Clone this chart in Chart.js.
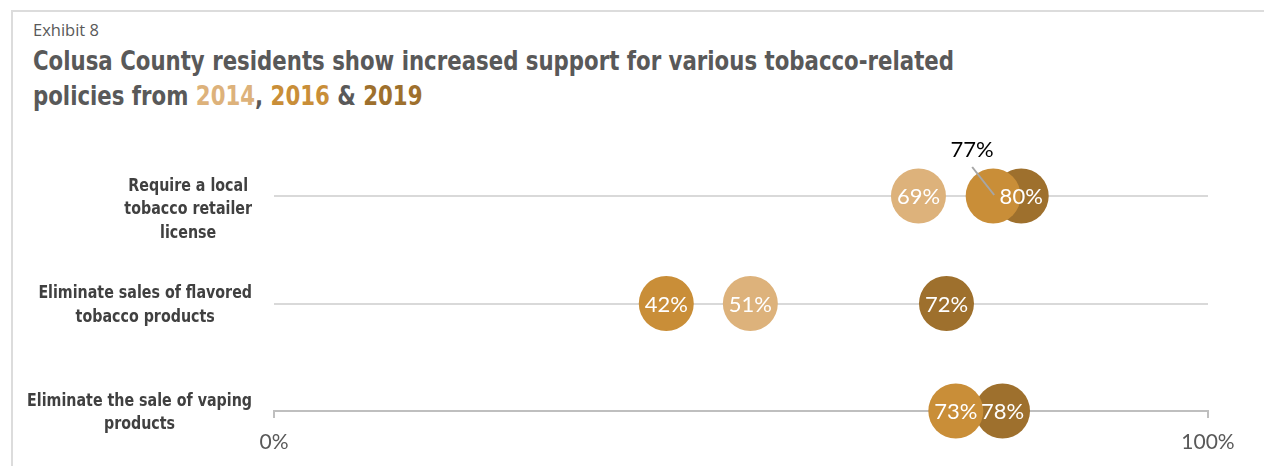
<!DOCTYPE html>
<html>
<head>
<meta charset="utf-8">
<script src="https://cdn.jsdelivr.net/npm/chart.js@4"></script>
<style>
  body { margin: 0; background: #fff; }
  #wrap { position: relative; width: 1264px; height: 466px; overflow: hidden; }
  #frame { position: absolute; left: 11px; top: 10px; width: 1300px; height: 500px; border-left: 2px solid #dcdcdc; border-top: 2px solid #dcdcdc; }
  #exhibit { position: absolute; left: 33px; top: 18px; font: 16.5px "Open Sans", sans-serif; color: #595959; }
  #title { position: absolute; left: 33px; top: 44px; font: bold 26px "DejaVu Sans Condensed", sans-serif; line-height: 35px; color: #595959;
           white-space: nowrap; transform: scaleX(0.91); transform-origin: 0 0; }
  canvas { position: absolute; left: 0; top: 0; }
</style>
</head>
<body>
<div id="wrap">
  <div id="frame"></div>
  <div id="exhibit">Exhibit 8</div>
  <div id="title">Colusa County residents show increased support for various tobacco-related<br>policies from <span style="color:#DDB27B">2014</span>, <span style="color:#C98E38">2016</span> &amp; <span style="color:#9E702D">2019</span></div>
  <canvas id="dotChart" width="1264" height="466"></canvas>
</div>
<script>
const categoryLines = [
  ['Require a local', 'tobacco retailer', 'license'],
  ['Eliminate sales of flavored', 'tobacco products'],
  ['Eliminate the sale of vaping', 'products']
];
const categories = categoryLines.map(l => l.join(' '));
const years = ['2014', '2016', '2019'];
const values2014 = [69, 51, null];
const values2016 = [77, 42, 73];
const values2019 = [80, 72, 78];
const colors = ['#DDB27B', '#C98E38', '#9E702D'];
const xTicks = [0, 100];

function toPoints(vals) {
  const pts = [];
  vals.forEach((v, i) => { if (v != null) pts.push({ x: v, y: categories[i] }); });
  return pts;
}

const yLabelPlugin = {
  id: 'yLabels',
  afterDraw(chart) {
    const ctx = chart.ctx;
    const yScale = chart.scales.y;
    const squeeze = 0.88;
    ctx.save();
    ctx.font = 'bold 18px "DejaVu Sans Condensed", sans-serif';
    ctx.fillStyle = '#404040';
    ctx.textAlign = 'center';
    ctx.textBaseline = 'middle';
    const lineH = 23.5;
    categoryLines.forEach((lines, i) => {
      const y = yScale.getPixelForValue(i);
      let maxW = 0;
      lines.forEach(t => { maxW = Math.max(maxW, ctx.measureText(t).width * squeeze); });
      const cx = 252 - maxW / 2;
      lines.forEach((t, j) => {
        ctx.save();
        ctx.translate(cx, y - 10 + j * lineH);
        ctx.scale(squeeze, 1);
        ctx.fillText(t, 0, 0);
        ctx.restore();
      });
    });
    ctx.restore();
  }
};

const dotLabelPlugin = {
  id: 'dotLabels',
  afterDatasetsDraw(chart) {
    const ctx = chart.ctx;
    ctx.save();
    ctx.font = '22px Lato, sans-serif';
    ctx.textAlign = 'center';
    ctx.textBaseline = 'middle';
    chart.data.datasets.forEach((ds, di) => {
      const meta = chart.getDatasetMeta(di);
      meta.data.forEach((pt, pi) => {
        const txt = ds.data[pi].x + '%';
        // crowded by a dot drawn on top of it -> put label outside with a leader line
        let crowded = false;
        for (let dj = di + 1; dj < chart.data.datasets.length; dj++) {
          chart.getDatasetMeta(dj).data.forEach(o => {
            if (Math.abs(o.y - pt.y) < 1 && Math.abs(o.x - pt.x) < 40) crowded = true;
          });
        }
        if (crowded) {
          ctx.strokeStyle = '#a6a6a6';
          ctx.lineWidth = 2;
          ctx.beginPath();
          ctx.moveTo(pt.x - 21, pt.y - 29);
          ctx.lineTo(pt.x + 1, pt.y - 1);
          ctx.stroke();
          ctx.fillStyle = '#000';
          ctx.fillText(txt, pt.x - 21, pt.y - 46);
        } else {
          ctx.fillStyle = '#fff';
          ctx.fillText(txt, pt.x, pt.y + 1);
        }
      });
    });
    ctx.restore();
  }
};

new Chart(document.getElementById('dotChart'), {
  type: 'scatter',
  data: {
    datasets: [
      { label: years[0], data: toPoints(values2014), backgroundColor: colors[0] },
      { label: years[1], data: toPoints(values2016), backgroundColor: colors[1] },
      { label: years[2], data: toPoints(values2019), backgroundColor: colors[2] }
    ].map(d => Object.assign(d, { pointRadius: 27.5, pointHoverRadius: 27.5, borderWidth: 0, clip: false }))
  },
  options: {
    responsive: false,
    animation: false,
    layout: { padding: { left: 0, right: 56, top: 196, bottom: 12 } },
    plugins: { legend: { display: false }, tooltip: { enabled: false } },
    scales: {
      x: {
        type: 'linear',
        min: 0,
        max: 100,
        afterBuildTicks: s => { s.ticks = xTicks.map(v => ({ value: v })); },
        afterFit: s => { s.height = 43; },
        grid: { drawOnChartArea: false, drawTicks: true, tickLength: 7, color: '#bfbfbf', lineWidth: 2 },
        border: { display: true, color: '#bfbfbf', width: 2 },
        ticks: { padding: 12, color: '#595959', font: { family: 'Lato', size: 21 }, maxRotation: 0, callback: v => v + '%' }
      },
      y: {
        type: 'category',
        labels: categories,
        offset: false,
        afterFit: s => { s.width = 274; },
        grid: { drawTicks: false, color: '#d9d9d9', lineWidth: 2 },
        border: { display: false },
        ticks: { display: false }
      }
    }
  },
  plugins: [yLabelPlugin, dotLabelPlugin]
});
</script>
</body>
</html>
